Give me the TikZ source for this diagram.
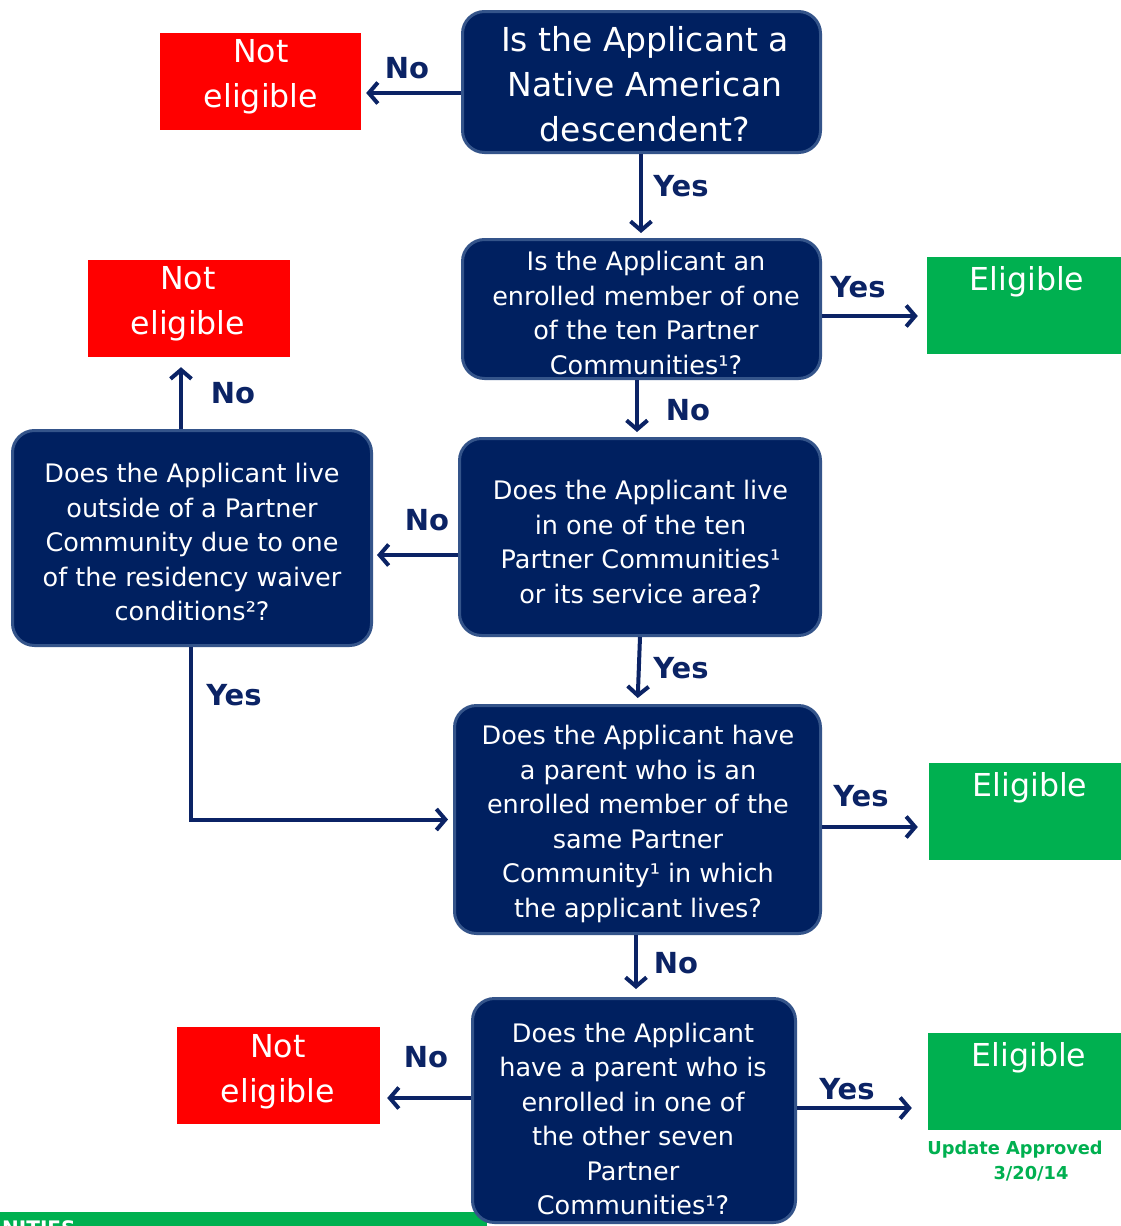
\documentclass[tikz,border=0pt]{standalone}
\usepackage{fontspec}
\setmainfont{DejaVu Sans}
\usetikzlibrary{arrows.meta}
\definecolor{navy}{HTML}{002060}
\definecolor{qborder}{HTML}{34548A}
\definecolor{nored}{HTML}{FF0000}
\definecolor{yesgreen}{HTML}{00B050}
\definecolor{arrowblue}{HTML}{0B2365}
\begin{document}
\begin{tikzpicture}[x=1pt,y=-1pt,
  qbox/.style={draw=qborder, line width=3pt, fill=navy, rounded corners=22pt, inner sep=0pt},
  qtext/.style={text=white, align=center, inner sep=0pt, font=\fontsize{25.5}{34.5}\selectfont},
  bigtext/.style={text=white, align=center, inner sep=0pt, font=\fontsize{33}{45}\selectfont},
  nebox/.style={fill=nored, inner sep=0pt, minimum height=97pt},
  elbox/.style={fill=yesgreen, inner sep=0pt, minimum height=97pt},
  resulttext/.style={text=white, align=center, inner sep=0pt, font=\fontsize{31.6}{45}\selectfont},
  lbl/.style={text=arrowblue, inner sep=0pt, font=\fontsize{29}{30}\selectfont\bfseries},
  arr/.style={draw=arrowblue, line width=4pt, -{Straight Barb[length=9pt,width=21pt]}},
  note/.style={text=yesgreen, inner sep=0pt, font=\fontsize{17.8}{24}\selectfont\bfseries},
]
\useasboundingbox (0,0) rectangle (1121,1226);
\clip (0,0) rectangle (1121,1226);
\fill[white] (0,0) rectangle (1121,1226);

% bottom green bar
\fill[yesgreen] (0,1212) rectangle (487,1226);
\node[anchor=north west, inner sep=0pt, text=white, font=\fontsize{20}{22}\selectfont\bfseries] (barlbl) at (2,1220.5) {NITIES};

% question boxes
\node[qbox, minimum width=358pt, minimum height=141pt] (q1) at (641.5,82) {};
\node[bigtext] (q1t) at (645,84) {Is the Applicant a\\Native American\\descendent?};

\node[qbox, minimum width=358pt, minimum height=139pt] (q2) at (641.5,309) {};
\node[qtext] (q2t) at (646,313) {Is the Applicant an\\enrolled member of one\\of the ten Partner\\Communities¹?};

\node[qbox, minimum width=361pt, minimum height=197pt] (q3) at (640,537) {};
\node[qtext] (q3t) at (640.5,542) {Does the Applicant live\\in one of the ten\\Partner Communities¹\\or its service area?};

\node[qbox, minimum width=359pt, minimum height=215pt] (q4) at (192,538) {};
\node[qtext] (q4t) at (192,542) {Does the Applicant live\\outside of a Partner\\Community due to one\\of the residency waiver\\conditions²?};

\node[qbox, minimum width=366pt, minimum height=228pt] (q5) at (637.5,819.5) {};
\node[qtext] (q5t) at (638,824) {Does the Applicant have\\a parent who is an\\enrolled member of the\\same Partner\\Community¹ in which\\the applicant lives?};

\node[qbox, minimum width=323pt, minimum height=224pt] (q6) at (634,1110.5) {};
\node[qtext] (q6t) at (633,1119) {Does the Applicant\\have a parent who is\\enrolled in one of\\the other seven\\Partner\\Communities¹?};

% result boxes
\node[nebox, minimum width=201pt] (ne1) at (260.5,81.5) {};
\node[resulttext] (ne1t) at (261,77) {Not\\eligible};
\node[nebox, minimum width=202pt] (ne2) at (189,308.5) {};
\node[resulttext] (ne2t) at (188,304) {Not\\eligible};
\node[nebox, minimum width=203pt] (ne3) at (278.5,1075.5) {};
\node[resulttext] (ne3t) at (278,1071.5) {Not\\eligible};

\node[elbox, minimum width=194pt] (el1) at (1024,305.5) {};
\node[resulttext] (el1t) at (1027,282) {Eligible};
\node[elbox, minimum width=192pt] (el2) at (1025,811.5) {};
\node[resulttext] (el2t) at (1030,788) {Eligible};
\node[elbox, minimum width=193pt] (el3) at (1024.5,1081.5) {};
\node[resulttext] (el3t) at (1029,1058) {Eligible};

\node[note] (upd1) at (1015,1150) {Update Approved};
\node[note] (upd2) at (1031,1174) {3/20/14};

% connectors
\draw[arr, shorten >=5pt] ([yshift=-11pt]q1.west) coordinate (a1) -- (a1 -| ne1.east);
\draw[arr, shorten >=5pt] ([xshift=-0.5pt]q1.south) -- ([xshift=-0.5pt]q2.north);
\draw[arr, shorten >=9pt] ([yshift=-7pt]q2.east) coordinate (a2) -- (a2 -| el1.west);
\draw[arr, shorten >=5pt] ([xshift=-4.5pt]q2.south) -- ([xshift=-3pt]q3.north);
\draw[arr, shorten >=4pt] ([yshift=-18pt]q3.west) coordinate (a3) -- (a3 -| q4.east);
\draw[arr, shorten >=10pt] ([xshift=-11pt]q4.north) coordinate (a4) -- (a4 |- ne2.south);
\draw[arr, shorten >=6pt] (q3.south) -- (q5.north);
\draw[arr, shorten >=5pt] ([xshift=-1pt]q4.south) |- (q5.west);
\draw[arr, shorten >=11pt] ([yshift=-7.5pt]q5.east) coordinate (a5) -- (a5 -| el2.west);
\draw[arr, shorten >=8pt] ([xshift=-1.5pt]q5.south) -- ([xshift=2pt]q6.north);
\draw[arr, shorten >=7pt] ([yshift=12.5pt]q6.west) coordinate (a6) -- (a6 -| ne3.east);
\draw[arr, shorten >=16pt] ([yshift=2.5pt]q6.east) coordinate (a7) -- (a7 -| el3.west);

% labels
\node[lbl] (l1) at (407,68) {No};
\node[lbl] (l2) at (681,186) {Yes};
\node[lbl] (l3) at (858,287) {Yes};
\node[lbl] (l4) at (688,410) {No};
\node[lbl] (l5) at (427,520) {No};
\node[lbl] (l6) at (233,393) {No};
\node[lbl] (l7) at (681,668) {Yes};
\node[lbl] (l8) at (234,695) {Yes};
\node[lbl] (l9) at (861,796) {Yes};
\node[lbl] (l10) at (676,963) {No};
\node[lbl] (l11) at (426,1057) {No};
\node[lbl] (l12) at (847,1089) {Yes};
\end{tikzpicture}
\end{document}
